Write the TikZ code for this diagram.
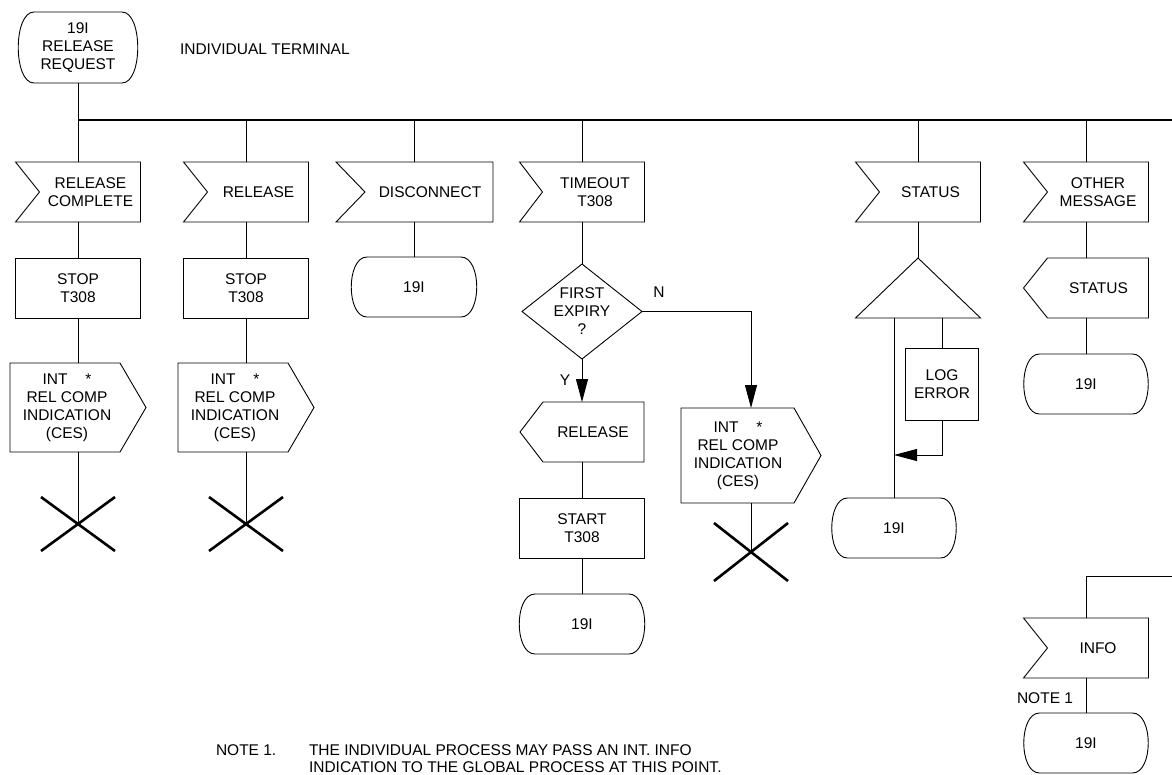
\documentclass[tikz,border=0pt]{standalone}
\usepackage{fontspec}
\setmainfont{Liberation Sans}
\usetikzlibrary{arrows.meta,shapes.misc}
\tikzset{
  sym/.style 2 args={minimum width=#1, minimum height=#2},
  arr/.style={-{Triangle[length=23pt,width=12pt]}},
  bus/.style={line width=1.6pt},
  xcross/.style={cross out, draw, line width=2.6pt, minimum width=74pt, minimum height=54pt},
}
% input signal: notch on the left
\newcommand\insig[2][24]{\draw (#2.north west) -- (#2.north east) -- (#2.south east) -- (#2.south west) -- ([xshift=#1]#2.west) -- cycle;}
% output signal pointing right
\newcommand\outsigR[2][26]{\draw (#2.north west) -- ([xshift=-#1]#2.north east) -- (#2.east) -- ([xshift=-#1]#2.south east) -- (#2.south west) -- cycle;}
% output signal pointing left
\newcommand\outsigL[2][24]{\draw (#2.west) -- ([xshift=#1]#2.north west) -- (#2.north east) -- (#2.south east) -- ([xshift=#1]#2.south west) -- cycle;}
% state symbol
\newcommand\statesym[1]{\draw ([xshift=16]#1.north west) -- ([xshift=-16]#1.north east) .. controls ([xshift=5]#1.north east) and ([xshift=5]#1.south east) .. ([xshift=-16]#1.south east) -- ([xshift=16]#1.south west) .. controls ([xshift=-5]#1.south west) and ([xshift=-5]#1.north west) .. cycle;}
\newcommand\tasksym[1]{\draw (#1.north west) rectangle (#1.south east);}
\begin{document}
\begin{tikzpicture}[x=1pt,y=-1pt,line width=0.9pt,
  every node/.style={font=\fontsize{15.5}{18}\selectfont, align=center, inner sep=0pt, outer sep=0pt}]
\useasboundingbox (0,0) rectangle (1172,774);

% start state
\node[sym={120}{71}, label={center:19I\\RELEASE\\REQUEST}] (st) at (78,47.5) {};
\statesym{st}
\node[anchor=west] (title) at (180,49) {INDIVIDUAL TERMINAL};

% bus
\coordinate (busL) at (78,120);
\coordinate (busR) at (1172,120);
\coordinate (b2) at (246,120);
\coordinate (b3) at (414,120);
\coordinate (b4) at (582,120);
\coordinate (b5) at (918,120);
\coordinate (b6) at (1086,120);

% column 1
\node[sym={125}{60}, label={[xshift=12.5pt]center:RELEASE\\COMPLETE}] (in1) at (78,192) {};
\insig{in1}
\node[sym={125}{60}] (stop1) at (78,288) {STOP\\T308};
\tasksym{stop1}
\node[sym={136}{89}, label={[xshift=-11pt]center:INT\hspace{1.15em}*\\REL COMP\\INDICATION\\(CES)}] (out1) at (78,407.5) {};
\outsigR{out1}
\node[xcross] (x1) at (78,524) {};

% column 2
\node[sym={125}{60}, label={[xshift=12.5pt]center:RELEASE}] (in2) at (246,192) {};
\insig{in2}
\node[sym={125}{60}] (stop2) at (246,288) {STOP\\T308};
\tasksym{stop2}
\node[sym={136}{89}, label={[xshift=-11pt]center:INT\hspace{1.15em}*\\REL COMP\\INDICATION\\(CES)}] (out2) at (246,407.5) {};
\outsigR{out2}
\node[xcross] (x2) at (246,524) {};

% column 3
\node[sym={157}{60}, label={[xshift=15.5pt]center:DISCONNECT}] (in3) at (414.5,192) {};
\insig[29]{in3}
\node[sym={126}{60}] (st3) at (414,287) {19I};
\statesym{st3}

% column 4
\node[sym={125}{60}, label={[xshift=13pt]center:TIMEOUT\\T308}] (in4) at (582,192) {};
\insig[23]{in4}
\node[sym={120}{95}] (dia) at (582,311.5) {FIRST\\EXPIRY\\?};
\draw (dia.north) -- (dia.east) -- (dia.south) -- (dia.west) -- cycle;
\node (lN) at (659,292) {N};
\node (lY) at (565,380) {Y};
\node[sym={124}{60}, label={[xshift=11pt]center:RELEASE}] (rel4) at (582,432) {};
\outsigL[23]{rel4}
\node[sym={125}{60}] (start4) at (582,528) {START\\T308};
\tasksym{start4}
\node[sym={126}{60}] (st4) at (582,624) {19I};
\statesym{st4}
\node[sym={140}{95}, label={[xshift=-13pt]center:INT\hspace{1.15em}*\\REL COMP\\INDICATION\\(CES)}] (out4) at (751,455.5) {};
\outsigR[27]{out4}
\node[xcross, minimum height=58pt] (x4) at (751,552) {};

% column 5
\node[sym={125}{60}, label={[xshift=12.5pt]center:STATUS}] (in5) at (918,192) {};
\insig{in5}
\node[sym={125}{60}] (tri) at (918,288) {};
\draw (tri.north) -- (tri.south east) -- (tri.south west) -- cycle;
\coordinate (trL) at (894,318);
\coordinate (trR) at (942,318);
\node[sym={73}{72}] (log) at (942,384) {LOG\\ERROR};
\tasksym{log}
\coordinate (join) at (894,455);
\node[sym={125}{60}] (st5) at (894,528) {19I};
\statesym{st5}

% column 6
\node[sym={125}{60}, label={[xshift=12pt]center:OTHER\\MESSAGE}] (in6) at (1086,192) {};
\insig{in6}
\node[sym={125}{60}, label={[xshift=12.5pt]center:STATUS}] (out6) at (1086,288) {};
\outsigL{out6}
\node[sym={125}{60}] (st6) at (1086,384) {19I};
\statesym{st6}

% bottom right
\coordinate (br1) at (1172,576);
\coordinate (br2) at (1086,576);
\node[sym={125}{60}, label={[xshift=12pt]center:INFO}] (in7) at (1086,648) {};
\insig{in7}
\node[sym={125}{60}] (st7) at (1086,743) {19I};
\statesym{st7}
\node[anchor=east] (note1lab) at (1073,698) {NOTE 1};

% note
\node[anchor=base west] (noteA) at (216,755) {NOTE 1.};
\node[anchor=base west] (noteB) at (309,755) {THE INDIVIDUAL PROCESS MAY PASS AN INT. INFO};
\node[anchor=base west] (noteC) at (309,772.5) {INDICATION TO THE GLOBAL PROCESS AT THIS POINT.};

% connectors
\draw (st) -- (in1);
\draw[bus] (busL) -- (busR);
\draw (b2) -- (in2);
\draw (b3) -- (in3.north -| b3);
\draw (b4) -- (in4);
\draw (b5) -- (in5);
\draw (b6) -- (in6);
\draw (in1) -- (stop1);
\draw (stop1) -- (out1);
\draw (out1) -- (x1.center);
\draw (in2) -- (stop2);
\draw (stop2) -- (out2);
\draw (out2) -- (x2.center);
\draw (in3.south -| st3) -- (st3);
\draw (in4) -- (dia);
\draw[arr] (dia.south) -- (rel4.north);
\draw[arr] (dia.east) -| (out4.north);
\draw (rel4) -- (start4);
\draw (start4) -- (st4);
\draw (out4) -- (x4.center);
\draw (in5) -- (tri.north);
\draw (trL) -- (st5.north);
\draw (trR) -- (log.north);
\draw[arr] (log.south) |- (join);
\draw (in6) -- (out6);
\draw (out6) -- (st6);
\draw (br1) -- (br2) -- (in7);
\draw (in7) -- (st7);
\end{tikzpicture}
\end{document}
